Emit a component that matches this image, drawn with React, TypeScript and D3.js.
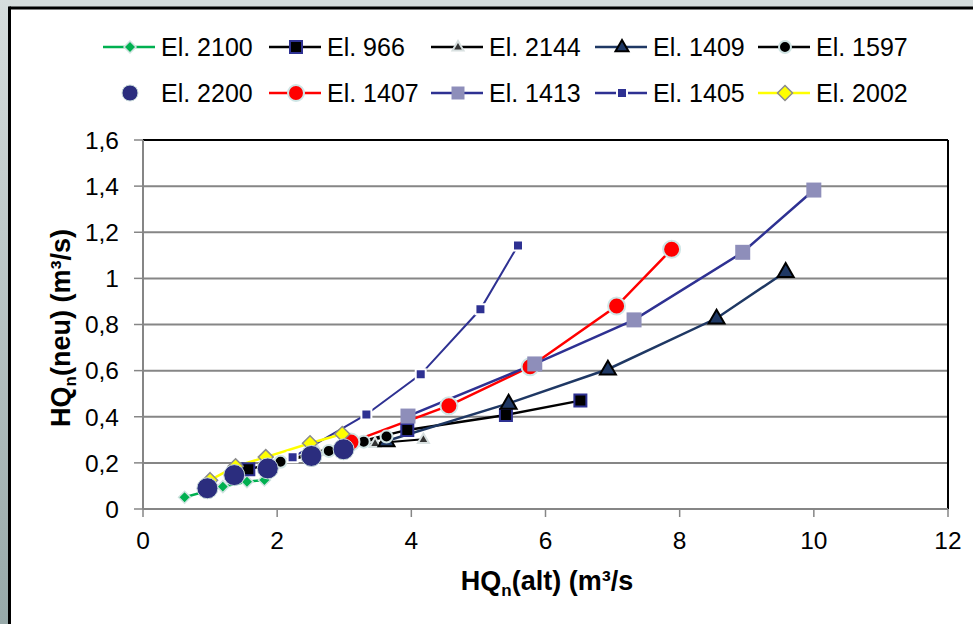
import React from 'react';
import * as d3 from 'd3';

type Pt = [number, number];

const xTicks = [0, 2, 4, 6, 8, 10, 12];
const yTicks = [0, 0.2, 0.4, 0.6, 0.8, 1, 1.2, 1.4, 1.6];
const yTickLabels = ['0', '0,2', '0,4', '0,6', '0,8', '1', '1,2', '1,4', '1,6'];

const el2100: Pt[] = [[0.62, 0.051], [1.19, 0.097], [1.55, 0.118], [1.81, 0.126]];
const el966: Pt[] = [[1.57, 0.172], [3.94, 0.343], [5.41, 0.408], [6.52, 0.47]];
const el2144: Pt[] = [[2.6, 0.25], [3.46, 0.285], [4.18, 0.302]];
const el1409: Pt[] = [[3.63, 0.295], [5.45, 0.458], [6.93, 0.606], [8.55, 0.827], [9.58, 1.029]];
const el1597: Pt[] = [[2.05, 0.205], [2.77, 0.252], [3.29, 0.292], [3.63, 0.314]];
const el2200: Pt[] = [[0.96, 0.09], [1.36, 0.147], [1.86, 0.176], [2.51, 0.23], [2.99, 0.259]];
const el1407: Pt[] = [[3.1, 0.29], [4.56, 0.448], [5.77, 0.617], [7.06, 0.88], [7.88, 1.126]];
const el1413: Pt[] = [[3.95, 0.403], [5.84, 0.629], [7.32, 0.82], [8.94, 1.113], [10.0, 1.383]];
const el1405: Pt[] = [[2.23, 0.224], [3.33, 0.41], [4.14, 0.584], [5.03, 0.866], [5.59, 1.143]];
const el2002: Pt[] = [[1.0, 0.125], [1.38, 0.185], [1.83, 0.225], [2.49, 0.285], [2.97, 0.325]];

type Shape = 'diamond' | 'square' | 'triangle' | 'circle';
interface Series {
  name: string;
  data: Pt[];
  line: string | null;
  lineWidth: number;
  shape: Shape;
  size: number;
  fill: string;
  stroke: string;
  strokeWidth: number;
}

const series: Series[] = [
  { name: 'El. 2100', data: el2100, line: '#00B050', lineWidth: 2.5, shape: 'diamond', size: 6, fill: '#00B050', stroke: '#cfe3e0', strokeWidth: 1.5 },
  { name: 'El. 966', data: el966, line: '#000000', lineWidth: 2.5, shape: 'square', size: 12, fill: '#000000', stroke: '#2E3192', strokeWidth: 2 },
  { name: 'El. 2144', data: el2144, line: '#000000', lineWidth: 2, shape: 'triangle', size: 11, fill: '#333333', stroke: '#d8e0e0', strokeWidth: 2 },
  { name: 'El. 1409', data: el1409, line: '#1F3864', lineWidth: 2.5, shape: 'triangle', size: 16, fill: '#1F3864', stroke: '#000000', strokeWidth: 2 },
  { name: 'El. 1597', data: el1597, line: '#000000', lineWidth: 2.5, shape: 'circle', size: 6, fill: '#000000', stroke: '#cfe3e3', strokeWidth: 2 },
  { name: 'El. 2200', data: el2200, line: null, lineWidth: 0, shape: 'circle', size: 10.5, fill: '#2B2D7E', stroke: '#c8dada', strokeWidth: 1 },
  { name: 'El. 1407', data: el1407, line: '#FF0000', lineWidth: 2.5, shape: 'circle', size: 8.5, fill: '#FF0000', stroke: '#cfe6e6', strokeWidth: 2 },
  { name: 'El. 1413', data: el1413, line: '#2E3192', lineWidth: 2.5, shape: 'square', size: 15, fill: '#8E8EBA', stroke: '#8E8EBA', strokeWidth: 0 },
  { name: 'El. 1405', data: el1405, line: '#2E3192', lineWidth: 2, shape: 'square', size: 10, fill: '#2E3192', stroke: '#ffffff', strokeWidth: 2 },
  { name: 'El. 2002', data: el2002, line: '#FFFF00', lineWidth: 2.5, shape: 'diamond', size: 7.5, fill: '#FFFF00', stroke: '#8c8c8c', strokeWidth: 1.5 },
];

function markerPath(shape: Shape, s: number): string {
  if (shape === 'diamond') return `M0,${-s}L${s},0L0,${s}L${-s},0Z`;
  if (shape === 'square') return `M${-s / 2},${-s / 2}h${s}v${s}h${-s}Z`;
  if (shape === 'triangle') {
    const h = (s * Math.sqrt(3)) / 2;
    return `M0,${-h * 0.62}L${s / 2},${h * 0.38}L${-s / 2},${h * 0.38}Z`;
  }
  const p = d3.path();
  p.arc(0, 0, s, 0, Math.PI * 2);
  p.closePath();
  return p.toString();
}

const W = 973;
const H = 624;
const plot = { left: 143, right: 948, top: 140, bottom: 509 };

export default function App() {
  const x = d3.scaleLinear().domain([0, 12]).range([plot.left, plot.right]);
  const y = d3.scaleLinear().domain([0, 1.6]).range([plot.bottom, plot.top]);
  const line = d3.line<Pt>().x((d) => x(d[0])).y((d) => y(d[1]));

  const font = "'Liberation Sans', Arial, sans-serif";
  const gridColor = '#868686';

  const legendCols = [103, 269, 431, 595, 758];
  const legendRows = [47, 93];

  const drawOrder = series.filter((s) => s.name !== 'El. 2200').concat(series.filter((s) => s.name === 'El. 2200'));

  return (
    <div style={{ position: 'fixed', left: 0, top: 0, width: W, height: H }}>
      <svg width={W} height={H} style={{ display: 'block' }} fontFamily={font}>
        <defs>
          <linearGradient id="edge" x1="0" y1="0" x2="0" y2="1">
            <stop offset="0" stopColor="#d6dddd" />
            <stop offset="1" stopColor="#97a9a9" />
          </linearGradient>
        </defs>
        <rect x={0} y={0} width={W} height={H} fill="#ffffff" />
        <rect x={0} y={0} width={W} height={7} fill="#d6dddd" />
        <rect x={0} y={0} width={8} height={H} fill="url(#edge)" />
        <line x1={9.5} x2={W} y1={8} y2={8} stroke="#000" strokeWidth={3} />
        <line x1={9.5} x2={9.5} y1={6.5} y2={H} stroke="#000" strokeWidth={3} />

        {/* gridlines */}
        {yTicks.map((t) => (
          <line key={'g' + t} x1={plot.left} x2={plot.right} y1={y(t)} y2={y(t)} stroke={t === 1.6 ? '#000' : gridColor} strokeWidth={2} />
        ))}
        <line x1={plot.right} x2={plot.right} y1={plot.top} y2={plot.bottom} stroke="#000" strokeWidth={2} />

        {/* axes */}
        <line x1={plot.left} x2={plot.left} y1={plot.top} y2={plot.bottom} stroke={gridColor} strokeWidth={2} />
        <line x1={plot.left} x2={plot.right} y1={plot.bottom} y2={plot.bottom} stroke={gridColor} strokeWidth={2} />
        {yTicks.map((t) => (
          <line key={'yt' + t} x1={plot.left - 9} x2={plot.left} y1={y(t)} y2={y(t)} stroke={gridColor} strokeWidth={1.5} />
        ))}
        {xTicks.map((t) => (
          <line key={'xt' + t} x1={x(t)} x2={x(t)} y1={plot.bottom} y2={plot.bottom + 8} stroke={gridColor} strokeWidth={1.5} />
        ))}
        {yTicks.map((t, i) => (
          <text key={'yl' + t} x={plot.left - 24} y={y(t)} dy="0.36em" textAnchor="end" fontSize={24.5} fill="#000">
            {yTickLabels[i]}
          </text>
        ))}
        {xTicks.map((t) => (
          <text key={'xl' + t} x={x(t)} y={plot.bottom + 31} dy="0.36em" textAnchor="middle" fontSize={24.5} fill="#000">
            {String(t)}
          </text>
        ))}

        {/* axis titles */}
        <text x={547} y={580} dy="0.36em" textAnchor="middle" fontSize={27} fontWeight="bold" fill="#000">
          HQ<tspan fontSize={17} dy={6}>n</tspan>
          <tspan dy={-6}>(alt) (m³/s</tspan>
        </text>
        <text transform={`translate(60,328) rotate(-90)`} textAnchor="middle" dy="0.36em" fontSize={27} fontWeight="bold" fill="#000">
          HQ<tspan fontSize={17} dy={6}>n</tspan>
          <tspan dy={-6}>(neu) (m³/s)</tspan>
        </text>

        {/* series lines */}
        {series.map((s) =>
          s.line ? (
            <path key={'l' + s.name} d={line(s.data) || ''} fill="none" stroke={s.line} strokeWidth={s.lineWidth} />
          ) : null
        )}
        {/* markers */}
        {drawOrder.map((s) => (
          <g key={'m' + s.name}>
            {s.data.map((d, i) => (
              <path
                key={i}
                transform={`translate(${x(d[0])},${y(d[1])})`}
                d={markerPath(s.shape, s.size)}
                fill={s.fill}
                stroke={s.strokeWidth > 0 ? s.stroke : 'none'}
                strokeWidth={s.strokeWidth}
              />
            ))}
          </g>
        ))}

        {/* legend */}
        {series.map((s, i) => {
          const col = i % 5;
          const row = Math.floor(i / 5);
          const lx = legendCols[col];
          const ly = legendRows[row];
          const ms = s.name === 'El. 2200' ? 8 : s.shape === 'circle' ? Math.min(s.size, 8) : Math.min(s.size, 13);
          return (
            <g key={'lg' + s.name}>
              {s.line ? <line x1={lx} x2={lx + 52} y1={ly} y2={ly} stroke={s.line} strokeWidth={2.5} /> : null}
              <path
                transform={`translate(${lx + 27},${ly})`}
                d={markerPath(s.shape, ms)}
                fill={s.fill}
                stroke={s.strokeWidth > 0 ? s.stroke : 'none'}
                strokeWidth={s.strokeWidth}
              />
              <text x={lx + 58} y={ly} dy="0.36em" fontSize={25} fill="#000">
                {s.name}
              </text>
            </g>
          );
        })}
      </svg>
    </div>
  );
}
